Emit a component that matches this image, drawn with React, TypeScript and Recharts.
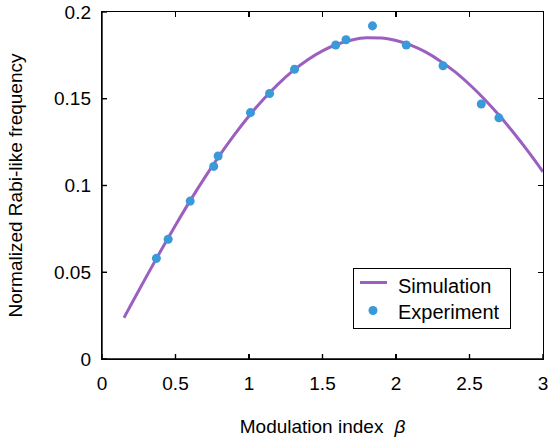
import React from 'react'
import {
  ComposedChart, Line, Scatter, XAxis, YAxis, Label,
} from 'recharts'

// simulation curve
const simBeta = [0.15, 0.2, 0.3, 0.4, 0.5, 0.6, 0.7, 0.8, 0.9, 1.0, 1.1, 1.2, 1.3, 1.4, 1.5, 1.6, 1.7, 1.8, 1.9, 2.0, 2.1, 2.2, 2.3, 2.4, 2.5, 2.6, 2.7, 2.8, 2.9, 3.0]
const simFreq = [0.0238, 0.0317, 0.0472, 0.0624, 0.0771, 0.0913, 0.1047, 0.1174, 0.1292, 0.1401, 0.1499, 0.1586, 0.1662, 0.1725, 0.1776, 0.1814, 0.1839, 0.1851, 0.1850, 0.1836, 0.1809, 0.1770, 0.1718, 0.1656, 0.1582, 0.1499, 0.1406, 0.1304, 0.1195, 0.1079]

// measured points
const expBeta = [0.37, 0.45, 0.60, 0.76, 0.79, 1.01, 1.14, 1.31, 1.59, 1.66, 1.84, 2.07, 2.32, 2.58, 2.70]
const expFreq = [0.058, 0.069, 0.091, 0.111, 0.117, 0.142, 0.153, 0.167, 0.181, 0.184, 0.192, 0.181, 0.169, 0.147, 0.139]

const xTicks = [0, 0.5, 1, 1.5, 2, 2.5, 3]
const yTicks = [0, 0.05, 0.1, 0.15, 0.2]

const SIM_COLOR = '#9b5fc0'
const EXP_COLOR = '#3a9ad9'
const FONT = '"Liberation Sans", Arial, Helvetica, sans-serif'

const simData = simBeta.map((x, i) => ({ x, y: simFreq[i] }))
const expData = expBeta.map((x, i) => ({ x, y: expFreq[i] }))

const X_MAX = 3
const Y_MAX = 0.2

// chart geometry
const W = 550
const H = 440
const MARGIN = { top: 12, right: 7, left: 0, bottom: 0 }
const Y_AXIS_W = 102
const X_AXIS_H = 81
const plot = {
  x: MARGIN.left + Y_AXIS_W,
  y: MARGIN.top,
  w: W - MARGIN.left - MARGIN.right - Y_AXIS_W,
  h: H - MARGIN.top - MARGIN.bottom - X_AXIS_H,
}
const TICK = 5
const LW = 1.4

const tickStyle = { fill: '#000', fontSize: 19, fontFamily: FONT }

// box around the plot with inward ticks on all four sides (css, drawn over the chart)
const Frame = () => {
  const px = (v: number) => plot.x + (v / X_MAX) * plot.w
  const py = (v: number) => plot.y + plot.h - (v / Y_MAX) * plot.h
  const right = plot.x + plot.w
  const bottom = plot.y + plot.h
  const mark = (left: number, top: number, w: number, h: number, key: string) => (
    <div key={key} style={{ position: 'absolute', left, top, width: w, height: h, background: '#000' }} />
  )
  return (
    <div style={{ position: 'absolute', left: 0, top: 0, width: W, height: H, pointerEvents: 'none' }}>
      <div style={{
        position: 'absolute', left: plot.x - LW / 2, top: plot.y - LW / 2,
        width: plot.w + LW, height: plot.h + LW, boxSizing: 'border-box', border: `${LW}px solid #000`,
      }} />
      {xTicks.slice(1, -1).map(t => [
        mark(px(t) - LW / 2, bottom - TICK, LW, TICK, 'xb' + t),
        mark(px(t) - LW / 2, plot.y, LW, TICK, 'xt' + t),
      ])}
      {yTicks.slice(1, -1).map(t => [
        mark(plot.x, py(t) - LW / 2, TICK, LW, 'yl' + t),
        mark(right - TICK, py(t) - LW / 2, TICK, LW, 'yr' + t),
      ])}
    </div>
  )
}

const LegendBox = () => (
  <div style={{
    position: 'absolute', left: 353, top: 268,
    width: 158, height: 61, boxSizing: 'border-box', border: `${LW}px solid #000`,
    background: '#fff',
  }}>
    <svg width={156} height={59} style={{ display: 'block' }}>
      <line x1={6} x2={33} y1={13.5} y2={13.5} stroke={SIM_COLOR} strokeWidth={3} />
      <text x={44} y={23.5} fontSize={20} fontFamily={FONT}>Simulation</text>
      <circle cx={19} cy={41.5} r={4.5} fill={EXP_COLOR} />
      <text x={44} y={50} fontSize={20} fontFamily={FONT}>Experiment</text>
    </svg>
  </div>
)

export default function App() {
  return (
    <div style={{ position: 'absolute', left: 0, top: 0, width: W, height: H }}>
      <ComposedChart width={W} height={H} margin={MARGIN}>
        <XAxis
          type="number" dataKey="x" domain={[0, X_MAX]} ticks={xTicks}
          height={X_AXIS_H} tickSize={-TICK} tickMargin={23} tick={tickStyle}
          stroke="#000" strokeWidth={LW}
          allowDataOverflow
        >
          <Label
            content={({ viewBox }: any) => (
              <text x={viewBox.x + viewBox.width / 2} y={viewBox.y + 74} textAnchor="middle"
                fontSize={19} fontFamily={FONT} fill="#000">
                Modulation index<tspan dx={11} fontStyle="italic">β</tspan>
              </text>
            )}
          />
        </XAxis>
        <YAxis
          type="number" domain={[0, Y_MAX]} ticks={yTicks}
          width={Y_AXIS_W} tickSize={-TICK} tickMargin={16} tick={tickStyle}
          stroke="#000" strokeWidth={LW}
          allowDataOverflow
        >
          <Label
            content={({ viewBox }: any) => {
              const cx = viewBox.x + 15
              const cy = viewBox.y + viewBox.height / 2
              return (
                <text x={cx} y={cy} transform={`rotate(-90 ${cx} ${cy})`} textAnchor="middle"
                  dominantBaseline="central" fontSize={19} fontFamily={FONT} fill="#000">
                  Normalized Rabi-like frequency
                </text>
              )
            }}
          />
        </YAxis>
        <Line
          data={simData} dataKey="y" type="monotone" stroke={SIM_COLOR} strokeWidth={3}
          dot={false} isAnimationActive={false}
        />
        <Scatter
          data={expData} dataKey="y" fill={EXP_COLOR} isAnimationActive={false}
        />
      </ComposedChart>
      <Frame />
      <LegendBox />
    </div>
  )
}
